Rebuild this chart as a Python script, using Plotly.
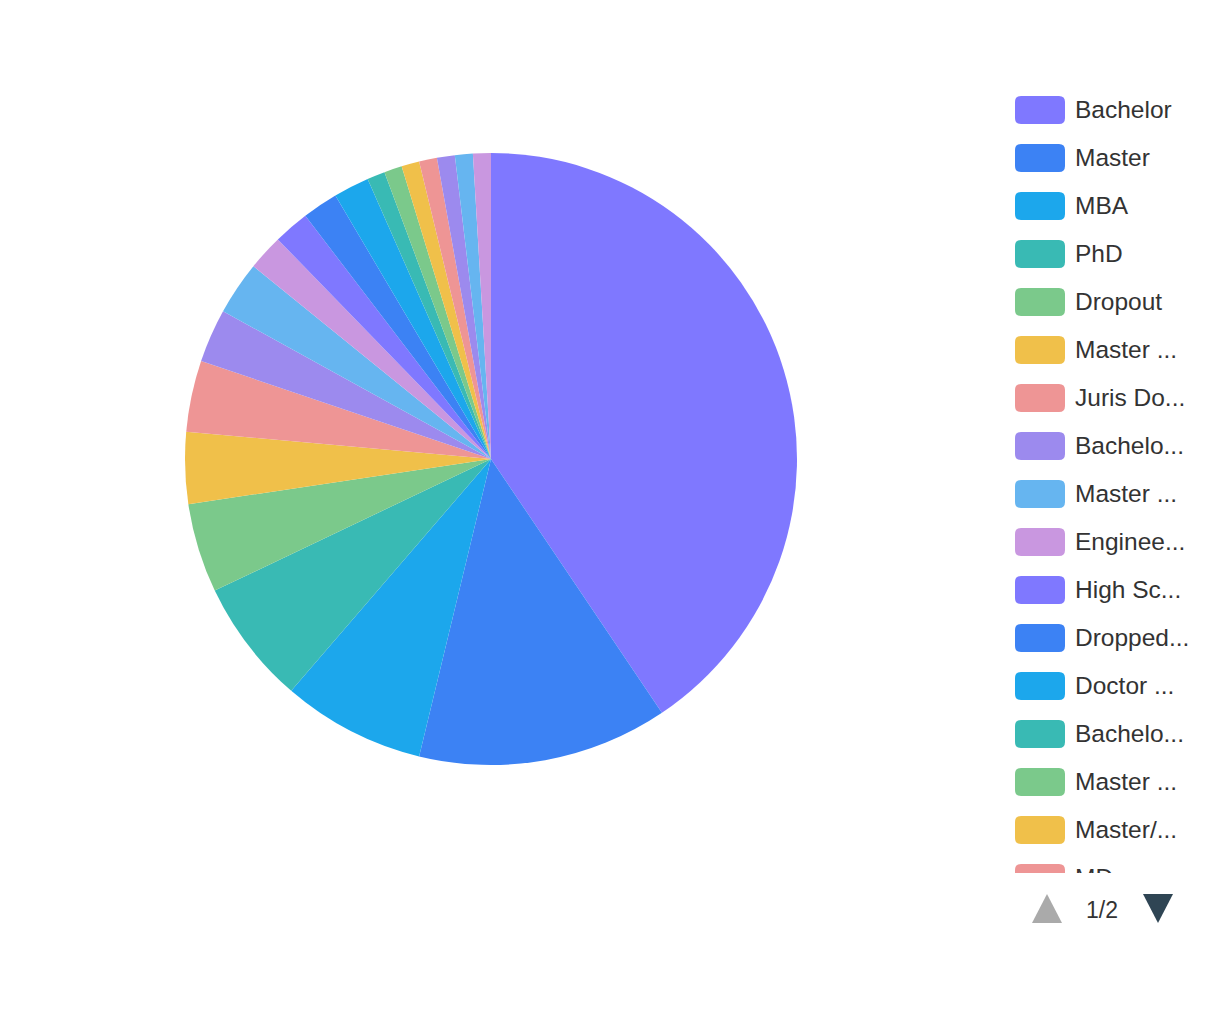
import plotly.graph_objects as go

# ---- data ----
categories = [
    "Bachelor", "Master", "MBA", "PhD", "Dropout", "Master of Science",
    "Juris Doctor", "Bachelor of Arts", "Master of Arts", "Engineering Degree",
    "High School", "Dropped Out", "Doctor of Medicine", "Bachelor of Science",
    "Master of Engineering", "Master/MBA", "MD", "Diploma", "LLB", "Associate Degree",
]
values = [43, 14, 8, 7, 5, 4, 4, 3, 3, 2, 2, 2, 2, 1, 1, 1, 1, 1, 1, 1]
legend_labels = [
    "Bachelor", "Master", "MBA", "PhD", "Dropout", "Master ...", "Juris Do...",
    "Bachelo...", "Master ...", "Enginee...", "High Sc...", "Dropped...",
    "Doctor ...", "Bachelo...", "Master ...", "Master/...", "MD",
]
page_text = "1/2"

palette = ["#7F78FF", "#3C82F4", "#1CA7EC", "#39BAB4", "#7BC98B",
           "#F0C04A", "#EE9595", "#9C8AEE", "#66B5F0", "#C997E0"]
colors = [palette[i % len(palette)] for i in range(len(values))]

W, H = 1228, 1020
FONT = "Liberation Sans, Arial, sans-serif"

fig = go.Figure()

# pie
cx, cy, r = 491, 459, 306
fig.add_trace(go.Pie(
    labels=categories, values=values, sort=False, direction="clockwise",
    rotation=0, textinfo="none", hoverinfo="label+value+percent",
    marker=dict(colors=colors, line=dict(width=0)),
    domain=dict(x=[(cx - r) / W, (cx + r) / W], y=[1 - (cy + r) / H, 1 - (cy - r) / H]),
    showlegend=False,
))

# custom scrollable-style legend (page 1), clipped in its own subplot
lx0, lx1, ly_top, ly_bot = 1005, 1228, 82, 873
row0, pitch = 110, 48
rect_x0, rect_w, rect_h, rad = 1015, 50, 28, 6


def rrect(x0, y0, x1, y1, rr):
    return (f"M{x0+rr},{y0} L{x1-rr},{y0} Q{x1},{y0} {x1},{y0+rr} "
            f"L{x1},{y1-rr} Q{x1},{y1} {x1-rr},{y1} L{x0+rr},{y1} "
            f"Q{x0},{y1} {x0},{y1-rr} L{x0},{y0+rr} Q{x0},{y0} {x0+rr},{y0} Z")


ys = [row0 + i * pitch for i in range(len(legend_labels))]
shapes = []
for i, yc in enumerate(ys):
    shapes.append(dict(type="path", xref="x2", yref="y2",
                       path=rrect(rect_x0, yc - rect_h / 2, rect_x0 + rect_w, yc + rect_h / 2, rad),
                       fillcolor=colors[i], line=dict(width=0), layer="above"))

fig.add_trace(go.Scatter(
    x=[1075] * len(legend_labels), y=[v + 2 for v in ys], mode="text", text=legend_labels,
    textposition="middle right", cliponaxis=True, hoverinfo="skip",
    textfont=dict(family=FONT, size=24.5, color="#333333"),
    xaxis="x2", yaxis="y2", showlegend=False,
))


def px_path(pts):
    s = ""
    for k, (x, y) in enumerate(pts):
        s += ("M" if k == 0 else " L") + f"{x / W},{1 - y / H}"
    return s + " Z"


# page arrows
shapes.append(dict(type="path", xref="paper", yref="paper",
                   path=px_path([(1032, 923), (1047, 894), (1062, 923)]),
                   fillcolor="#AAAAAA", line=dict(width=0)))
shapes.append(dict(type="path", xref="paper", yref="paper",
                   path=px_path([(1143, 894), (1173, 894), (1158, 923)]),
                   fillcolor="#2F4554", line=dict(width=0)))

fig.update_layout(
    width=W, height=H, margin=dict(l=0, r=0, t=0, b=0),
    paper_bgcolor="white", plot_bgcolor="rgba(0,0,0,0)",
    font=dict(family=FONT, color="#333333"),
    xaxis2=dict(domain=[lx0 / W, lx1 / W], range=[lx0, lx1], visible=False,
                fixedrange=True, anchor="y2"),
    yaxis2=dict(domain=[1 - ly_bot / H, 1 - ly_top / H], range=[ly_bot, ly_top],
                visible=False, fixedrange=True, anchor="x2"),
    shapes=shapes,
    annotations=[dict(x=1102 / W, y=1 - 910 / H, xref="paper", yref="paper",
                      xanchor="center", yanchor="middle",
                      text=page_text, showarrow=False,
                      font=dict(family=FONT, size=23, color="#333333"))],
)

fig.write_html("out.html", config={"displayModeBar": False},
               post_script="document.body.style.margin='0';")
